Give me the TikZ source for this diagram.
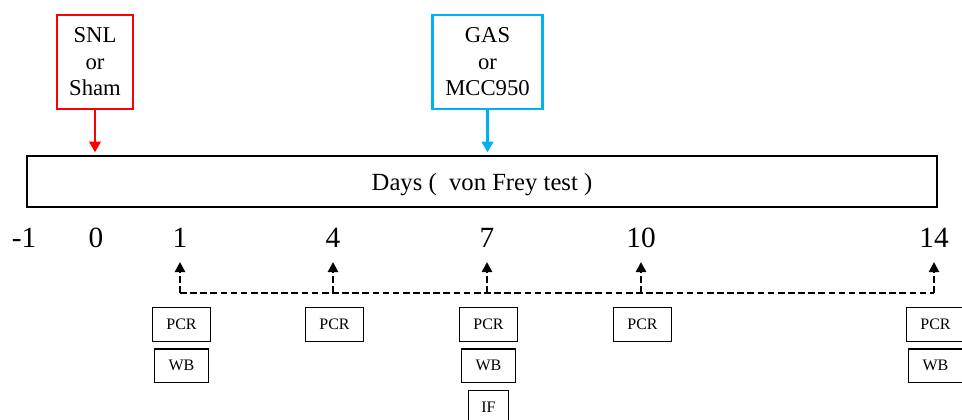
\documentclass[tikz,border=0pt]{standalone}
\usepackage{fontspec}
\setmainfont{Liberation Serif}
\usetikzlibrary{arrows.meta,positioning}
\definecolor{snlred}{RGB}{255,0,0}
\definecolor{gasblue}{RGB}{0,176,240}

\begin{document}
\begin{tikzpicture}[
    x=0.75pt, y=-0.75pt,
    event/.style={rectangle, draw, line width=2.2pt, minimum width=57pt, minimum height=70.5pt, align=center, inner sep=2pt, font=\fontsize{17}{19.8}\selectfont},
    timeline/.style={rectangle, draw, line width=1.5pt, minimum width=682.5pt, minimum height=38.25pt, text depth=0pt, font=\fontsize{18.5}{21}\selectfont},
    daylabel/.style={anchor=base, inner sep=0pt, font=\fontsize{22}{24}\selectfont},
    assay/.style={rectangle, draw, line width=0.9pt, minimum height=25pt, inner sep=1pt, font=\fontsize{12}{14}\selectfont},
    pcr/.style={assay, minimum width=44pt},
    wb/.style={assay, minimum width=40.5pt},
    ifbox/.style={assay, minimum width=30pt},
    treat/.style={-{Triangle[width=8.5pt,length=8pt]}, line width=2.2pt, shorten >=2pt},
    sampling/.style={line width=2pt, dash pattern=on 5pt off 2.6pt},
    sample/.style={sampling, -{Triangle[width=7.5pt,length=7.5pt]}}
]
\clip (0,0) rectangle (962,420);

% Nodes
\node[event, draw=snlred] (snl) at (95,62) {SNL\\or\\Sham};
\node[event, draw=gasblue, minimum width=83pt] (gas) at (487.5,62) {GAS\\or\\MCC950};
\node[timeline] (days) at (482,181.5) {Days (\ \ von Frey test )};

% Day labels
\foreach \x/\d in {24/-1,96/0,180/1,333/4,487/7,641/10,934/14}
    \node[daylabel] (day\d) at (\x,247) {\d};

% Sampling points
\foreach \x/\d in {180/1,333/4,487/7,641/10,934/14} {
    \coordinate (base\d) at (\x,293);
    \coordinate (tip\d) at (\x,262);
}

% Assays
\node[pcr] (pcr1) at (181.5,324.5) {PCR};
\node[wb, below=5pt of pcr1] (wb1) {WB};
\node[pcr] (pcr4) at (334.5,324.5) {PCR};
\node[pcr] (pcr7) at (488.5,324.5) {PCR};
\node[wb, below=5pt of pcr7] (wb7) {WB};
\node[ifbox, below=5pt of wb7] (if7) {IF};
\node[pcr] (pcr10) at (642.5,324.5) {PCR};
\node[pcr] (pcr14) at (935.5,324.5) {PCR};
\node[wb, below=5pt of pcr14] (wb14) {WB};

% Arrows
\draw[treat, snlred] (snl) -- (snl |- days.north);
\draw[treat, gasblue] (gas) -- (gas |- days.north);
\draw[sampling] (base1) -- (base14);
\foreach \d in {1,4,7,10,14}
    \draw[sample] (base\d) -- (tip\d);

\end{tikzpicture}
\end{document}
